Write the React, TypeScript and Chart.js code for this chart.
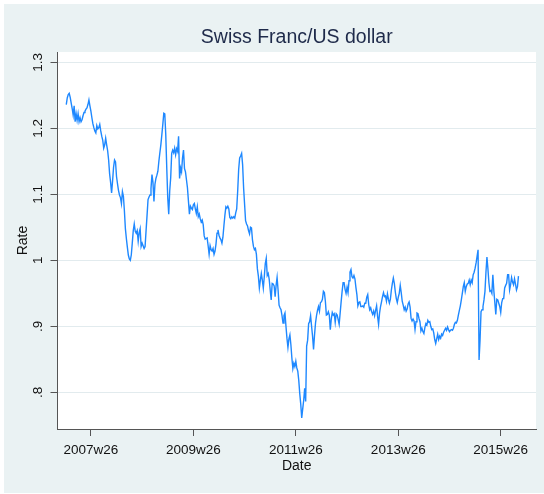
import React, { useEffect, useRef } from "react";
import { Chart, registerables } from "chart.js";

Chart.register(...registerables);

// Stata weekly date numbers: 2007w1 = 2444 (52 weeks per year since 1960w1)
const START_WEEK = 2444;

const rate2007 = [
  1.236, 1.246, 1.251, 1.253, 1.247, 1.238, 1.230, 1.220, 1.234, 1.210,
  1.222, 1.212, 1.222, 1.210, 1.216, 1.210, 1.213, 1.219, 1.224, 1.226,
  1.229, 1.231, 1.236, 1.243, 1.234, 1.226, 1.216, 1.207, 1.201, 1.196,
  1.193, 1.204, 1.199, 1.201, 1.206, 1.196, 1.188, 1.182, 1.170, 1.175,
  1.185, 1.175, 1.166, 1.152, 1.131, 1.118, 1.102, 1.120, 1.141, 1.152,
  1.149, 1.127,
];
const rate2008 = [
  1.116, 1.106, 1.099, 1.095, 1.086, 1.104, 1.097, 1.075, 1.048, 1.033,
  1.020, 1.008, 1.002, 1.000, 1.008, 1.026, 1.045, 1.055, 1.044, 1.041,
  1.045, 1.029, 1.042, 1.048, 1.021, 1.026, 1.022, 1.018, 1.021, 1.045,
  1.068, 1.092, 1.096, 1.099, 1.109, 1.130, 1.118, 1.089, 1.115, 1.124,
  1.129, 1.135, 1.150, 1.163, 1.175, 1.190, 1.206, 1.223, 1.222, 1.190,
  1.140, 1.095,
];
const rate2009 = [
  1.070, 1.105, 1.125, 1.162, 1.167, 1.163, 1.170, 1.160, 1.169, 1.165,
  1.188, 1.124, 1.140, 1.134, 1.155, 1.167, 1.139, 1.134, 1.122, 1.110,
  1.090, 1.070, 1.082, 1.079, 1.077, 1.084, 1.086, 1.078, 1.071, 1.081,
  1.066, 1.070, 1.063, 1.058, 1.061, 1.054, 1.037, 1.032, 1.033, 1.034,
  1.022, 1.009, 1.022, 1.016, 1.014, 1.018, 1.009, 1.014, 1.025, 1.041,
  1.046, 1.038,
];
const rate2010 = [
  1.034, 1.031, 1.026, 1.035, 1.052, 1.068, 1.081, 1.079, 1.082, 1.078,
  1.065, 1.063, 1.066, 1.064, 1.066, 1.064, 1.072, 1.078, 1.105, 1.138,
  1.155, 1.158, 1.162, 1.145, 1.110, 1.085, 1.060, 1.055, 1.052, 1.045,
  1.040, 1.050, 1.049, 1.031, 1.021, 1.016, 1.018, 1.009, 0.987, 0.976,
  0.958, 0.970, 0.980, 0.970, 0.958, 0.975, 0.995, 1.003, 0.977, 0.980,
  0.971, 0.955,
];
const rate2011 = [
  0.940, 0.965, 0.964, 0.961, 0.945, 0.962, 0.974, 0.955, 0.932, 0.928,
  0.925, 0.916, 0.905, 0.916, 0.920, 0.900, 0.882, 0.868, 0.881, 0.887,
  0.872, 0.852, 0.836, 0.844, 0.839, 0.847, 0.837, 0.832, 0.818, 0.798,
  0.782, 0.761, 0.775, 0.788, 0.806, 0.786, 0.870, 0.879, 0.904, 0.907,
  0.916, 0.900, 0.885, 0.865, 0.887, 0.905, 0.916, 0.924, 0.930, 0.923,
  0.936, 0.937,
];
const rate2012 = [
  0.941, 0.953, 0.951, 0.938, 0.917, 0.918, 0.922, 0.917, 0.895, 0.911,
  0.921, 0.917, 0.919, 0.906, 0.919, 0.917, 0.910, 0.903, 0.920, 0.937,
  0.953, 0.966, 0.966, 0.956, 0.950, 0.959, 0.951, 0.969, 0.982, 0.986,
  0.975, 0.973, 0.977, 0.972, 0.959, 0.948, 0.931, 0.936, 0.937, 0.930,
  0.930, 0.931, 0.929, 0.935, 0.935, 0.944, 0.948, 0.933, 0.925, 0.928,
  0.922, 0.918,
];
const rate2013 = [
  0.923, 0.916, 0.924, 0.931, 0.915, 0.903, 0.920, 0.930, 0.937, 0.945,
  0.951, 0.945, 0.946, 0.938, 0.949, 0.941, 0.935, 0.941, 0.955, 0.965,
  0.973, 0.965, 0.952, 0.942, 0.936, 0.944, 0.950, 0.962, 0.951, 0.938,
  0.932, 0.925, 0.929, 0.923, 0.926, 0.934, 0.937, 0.929, 0.912, 0.908,
  0.911, 0.908, 0.895, 0.907, 0.920, 0.919, 0.912, 0.907, 0.893, 0.897,
  0.892, 0.889,
];
const rate2014 = [
  0.898, 0.904, 0.902, 0.909, 0.906, 0.907, 0.900, 0.895, 0.896, 0.890,
  0.880, 0.874, 0.881, 0.888, 0.880, 0.885, 0.882, 0.888, 0.886, 0.891,
  0.894, 0.897, 0.894, 0.899, 0.895, 0.892, 0.894, 0.895, 0.894, 0.897,
  0.903, 0.906, 0.905, 0.909, 0.917, 0.924, 0.931, 0.940, 0.950, 0.960,
  0.966, 0.953, 0.960, 0.964, 0.965, 0.970, 0.963, 0.970, 0.966, 0.978,
  0.982, 0.988,
];
const rate2015 = [
  0.996, 1.006, 1.016, 0.849, 0.879, 0.922, 0.925, 0.930, 0.940, 0.953,
  0.982, 1.005, 0.987, 0.966, 0.953, 0.954, 0.950, 0.978, 0.954, 0.936,
  0.918, 0.941, 0.940, 0.935, 0.930, 0.921, 0.936, 0.942, 0.942, 0.958,
  0.962, 0.965, 0.978, 0.978, 0.955, 0.963, 0.974, 0.967, 0.963, 0.972,
  0.964, 0.955, 0.960, 0.976,
];

const xTickWeeks = [2469, 2573, 2677, 2781, 2885];
const xTickLabels = ["2007w26", "2009w26", "2011w26", "2013w26", "2015w26"];
const yTickValues = [0.8, 0.9, 1.0, 1.1, 1.2, 1.3];
const yTickLabels = [".8", ".9", "1", "1.1", "1.2", "1.3"];

const TITLE = "Swiss Franc/US dollar";
const X_TITLE = "Date";
const Y_TITLE = "Rate";

const FONT = '"Liberation Sans", Arial, Helvetica, sans-serif';

export default function App() {
  const canvasRef = useRef<HTMLCanvasElement | null>(null);

  useEffect(() => {
    const canvas = canvasRef.current;
    if (!canvas) return;

    const rates = [
      ...rate2007, ...rate2008, ...rate2009, ...rate2010, ...rate2011,
      ...rate2012, ...rate2013, ...rate2014, ...rate2015,
    ];
    const points = rates.map((r, i) => ({ x: START_WEEK + i, y: r }));

    const stataPlugin = {
      id: "stataLook",
      beforeDraw(chart: any) {
        const { ctx, chartArea } = chart;
        ctx.save();
        ctx.fillStyle = "#ffffff";
        ctx.fillRect(0, 0, chart.width, chart.height);
        ctx.fillStyle = "#eaf2f3";
        ctx.fillRect(4, 4, chart.width - 4, chart.height - 5);
        ctx.fillStyle = "#ffffff";
        ctx.fillRect(
          chartArea.left,
          chartArea.top,
          chartArea.right - chartArea.left,
          chartArea.bottom - chartArea.top
        );
        ctx.restore();
      },
      afterDraw(chart: any) {
        const { ctx, chartArea } = chart;
        ctx.save();
        ctx.font = `19.5px ${FONT}`;
        ctx.fillStyle = "#1e2a4a";
        ctx.textAlign = "center";
        ctx.textBaseline = "alphabetic";
        ctx.fillText(TITLE, (chartArea.left + chartArea.right) / 2, 43.3);
        ctx.restore();
      },
    };

    const chart = new Chart(canvas, {
      type: "line",
      data: {
        datasets: [
          {
            label: "Rate",
            data: points,
            borderColor: "#1e88ff",
            borderWidth: 1.4,
            pointRadius: 0,
            tension: 0,
            fill: false,
          },
        ],
      },
      options: {
        responsive: false,
        animation: false,
        devicePixelRatio: 1,
        layout: { padding: { top: 52, right: 8, bottom: 0, left: 0 } },
        plugins: {
          legend: { display: false },
          tooltip: { enabled: false },
          title: { display: false },
        },
        scales: {
          x: {
            type: "linear",
            min: 2435.1,
            max: 2920.8,
            afterBuildTicks: (s: any) => {
              s.ticks = xTickWeeks.map((v) => ({ value: v }));
            },
            afterFit: (s: any) => {
              s.height = 65;
            },
            grid: {
              drawOnChartArea: false,
              drawTicks: true,
              tickLength: 7,
              tickColor: "#555555",
              tickWidth: 1,
            },
            border: { display: true, color: "#555555", width: 1 },
            ticks: {
              autoSkip: false,
              maxRotation: 0,
              minRotation: 0,
              padding: 6,
              color: "#111111",
              font: { family: FONT, size: 13.5 },
              callback: (_v: any, i: number) => xTickLabels[i],
            },
            title: {
              display: true,
              text: X_TITLE,
              color: "#111111",
              font: { family: FONT, size: 14 },
              padding: { top: 0, bottom: 19 },
            },
          },
          y: {
            type: "linear",
            min: 0.7444,
            max: 1.3156,
            afterBuildTicks: (s: any) => {
              s.ticks = yTickValues.map((v) => ({ value: v }));
            },
            afterFit: (s: any) => {
              s.width = 57.5;
            },
            grid: {
              color: "#e2ebee",
              lineWidth: 1,
              drawTicks: true,
              tickLength: 7,
              tickColor: "#555555",
              tickWidth: 1,
            },
            border: { display: true, color: "#555555", width: 1 },
            ticks: {
              minRotation: 90,
              maxRotation: 90,
              crossAlign: "center",
              padding: 3,
              color: "#111111",
              font: { family: FONT, size: 13.5 },
              callback: (_v: any, i: number) => yTickLabels[i],
            },
            title: {
              display: true,
              text: Y_TITLE,
              color: "#111111",
              font: { family: FONT, size: 14 },
              padding: { top: 15, bottom: 0 },
            },
          },
        },
      },
      plugins: [stataPlugin],
    } as any);

    return () => {
      chart.destroy();
    };
  }, []);

  return (
    <div style={{ position: "absolute", left: 0, top: 0, width: 544, height: 494 }}>
      <canvas ref={canvasRef} width={544} height={494} style={{ display: "block" }} />
    </div>
  );
}
